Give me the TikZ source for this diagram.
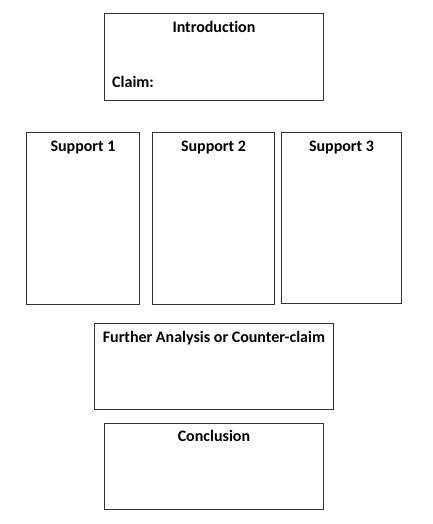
\documentclass[tikz,border=0pt]{standalone}
\usepackage{fontspec}
\setmainfont{Carlito}[Ligatures={NoCommon}]
\usetikzlibrary{calc}
\tikzset{
	box/.style={draw=black!80, line width=0.9pt, fill=white, inner sep=0pt, anchor=north west},
	boxtitle/.style={font=\fontsize{16}{19}\selectfont\bfseries, inner sep=0pt, anchor=base},
}

\begin{document}
\begin{tikzpicture}[x=1pt, y=-1pt]
		%%%%% START %%%%%
		
		\useasboundingbox (0, 0) rectangle (433, 524);
		
		\node[box, minimum width=219pt, minimum height=87pt] (intro) at (104, 13) {};
		\node[boxtitle] (introtitle) at ($(intro.north)+(0, 20)$) {Introduction};
		\node[boxtitle, anchor=base west] (claim) at ($(intro.south west)+(8, -13)$) {Claim:};
		
		\node[box, minimum width=113pt, minimum height=172pt] (supone) at (26, 132) {};
		\node[box, minimum width=122pt, minimum height=172pt] (suptwo) at (152, 132) {};
		\node[box, minimum width=120pt, minimum height=171pt] (supthree) at (281, 132) {};
		\node[boxtitle] (suponetitle) at ($(supone.north)+(0, 19)$) {Support 1};
		\node[boxtitle] (suptwotitle) at ($(suptwo.north)+(0, 19)$) {Support 2};
		\node[boxtitle] (supthreetitle) at ($(supthree.north)+(0, 19)$) {Support 3};
		
		\node[box, minimum width=239pt, minimum height=86pt] (further) at (94, 323) {};
		\node[boxtitle] (furthertitle) at ($(further.north)+(0, 19)$) {Further Analysis or Counter-claim};
		
		\node[box, minimum width=219pt, minimum height=86pt] (concl) at (104, 423) {};
		\node[boxtitle] (concltitle) at ($(concl.north)+(0, 18)$) {Conclusion};
		
		%%%%% END %%%%%
	\end{tikzpicture}
\end{document}
